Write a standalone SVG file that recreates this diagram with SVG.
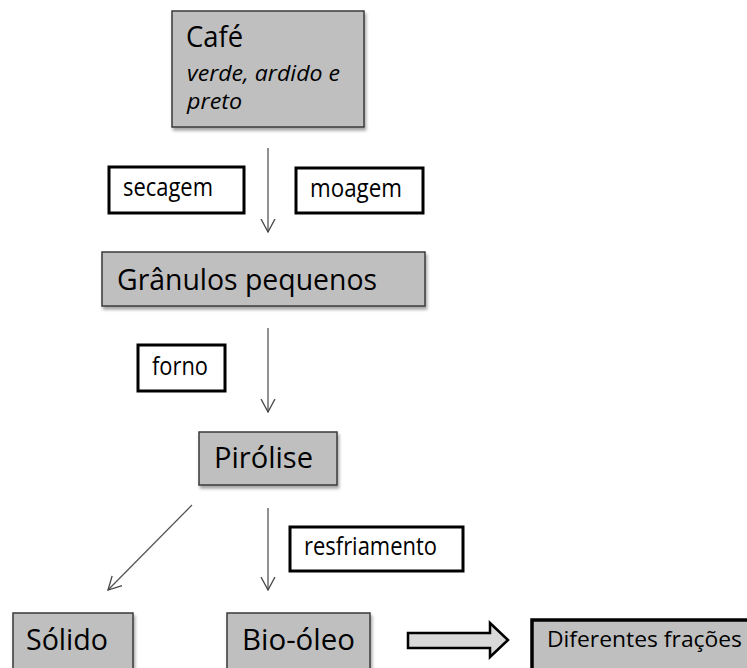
<svg xmlns="http://www.w3.org/2000/svg" width="747" height="668" viewBox="0 0 747 668">
<style>
text{font-family:"Open Sans","Noto Sans","Liberation Sans",sans-serif;fill:#000}
.g{fill:#bfbfbf;stroke:#3a3a3a;stroke-width:1.5;filter:url(#sh)}
.lb{fill:#fff;stroke:#000;stroke-width:3}
.big{font-size:30px}
.sm{font-size:25px}
.it{font-style:italic;font-size:22px}
.c{stroke:#555;stroke-width:1.3;fill:none;marker-end:url(#ah)}
</style>
<defs>
<filter id="sh" x="-10%" y="-10%" width="130%" height="140%">
<feDropShadow dx="1.5" dy="3" stdDeviation="1.8" flood-color="#000" flood-opacity="0.35"/>
</filter>
<marker id="ah" viewBox="0 0 14 16" refX="13" refY="8" markerWidth="14" markerHeight="16" markerUnits="userSpaceOnUse" orient="auto">
<path d="M0,1 L13,8 L0,15" fill="none" stroke="#444" stroke-width="1.3"/>
</marker>
</defs>
<rect width="747" height="668" fill="#fff"/>
<g id="connectors">
<line class="c" x1="268" y1="148" x2="268" y2="232"/>
<line class="c" x1="268" y1="328" x2="268" y2="412"/>
<line class="c" x1="192" y1="505" x2="108" y2="590"/>
<line class="c" x1="268" y1="508" x2="268" y2="590"/>
<path id="block-arrow" d="M408,633 L490,633 L490,623 L508,640 L490,657 L490,648 L408,648 Z" fill="#d9d9d9" stroke="#000" stroke-width="2.5" stroke-linejoin="miter"/>
</g>
<g id="cafe">
<rect class="g" x="172" y="11" width="192" height="116"/>
<text class="big" x="186" y="47" textLength="57" lengthAdjust="spacingAndGlyphs">Café</text>
<text class="it" x="187" y="81" textLength="153" lengthAdjust="spacingAndGlyphs">verde, ardido e</text>
<text class="it" x="187" y="109" textLength="55" lengthAdjust="spacingAndGlyphs">preto</text>
</g>
<g id="secagem">
<rect class="lb" x="109" y="167" width="135" height="46"/>
<text class="sm" x="123" y="196" textLength="90" lengthAdjust="spacingAndGlyphs">secagem</text>
</g>
<g id="moagem">
<rect class="lb" x="296" y="168" width="127" height="45"/>
<text class="sm" x="310" y="197" textLength="92" lengthAdjust="spacingAndGlyphs">moagem</text>
</g>
<g id="granulos">
<rect class="g" x="102" y="252" width="323" height="54"/>
<text class="big" x="117" y="290" textLength="260" lengthAdjust="spacingAndGlyphs">Grânulos pequenos</text>
</g>
<g id="forno">
<rect class="lb" x="138" y="345" width="87" height="46"/>
<text class="sm" x="152" y="375" textLength="56" lengthAdjust="spacingAndGlyphs">forno</text>
</g>
<g id="pirolise">
<rect class="g" x="199" y="432" width="138" height="53"/>
<text class="big" x="214" y="468" textLength="99" lengthAdjust="spacingAndGlyphs">Pirólise</text>
</g>
<g id="resfriamento">
<rect class="lb" x="290" y="527" width="173" height="44"/>
<text class="sm" x="304" y="555" textLength="133" lengthAdjust="spacingAndGlyphs">resfriamento</text>
</g>
<g id="solido">
<rect class="g" x="13" y="613" width="120" height="56"/>
<text class="big" x="26" y="650" textLength="82" lengthAdjust="spacingAndGlyphs">Sólido</text>
</g>
<g id="bio-oleo">
<rect class="g" x="227" y="613" width="143" height="56"/>
<text class="big" x="242" y="650" textLength="113" lengthAdjust="spacingAndGlyphs">Bio-óleo</text>
</g>
<g id="diferentes">
<rect x="532" y="620" width="218" height="52" fill="#bfbfbf" stroke="#000" stroke-width="3.5"/>
<text x="547" y="647" font-size="22" textLength="195" lengthAdjust="spacingAndGlyphs">Diferentes frações</text>
</g>
</svg>
